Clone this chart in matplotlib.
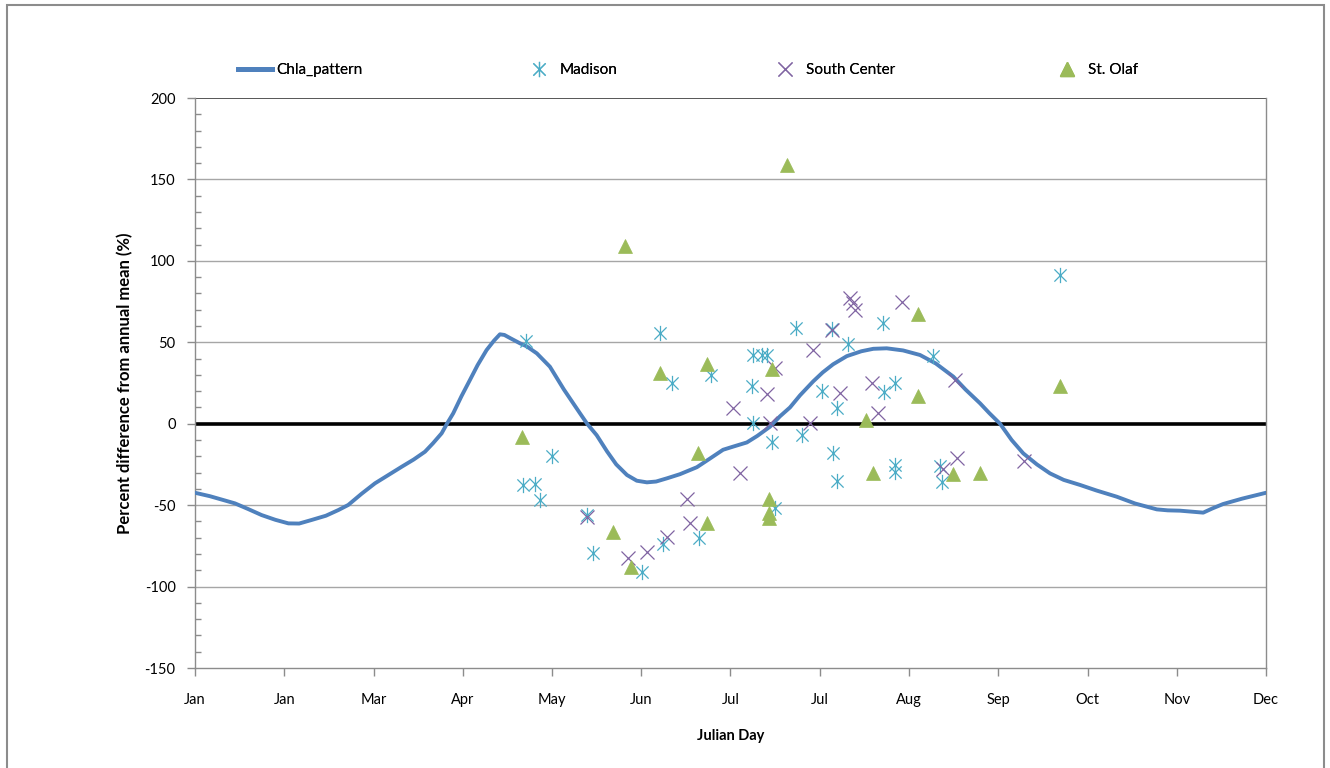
import matplotlib
matplotlib.use("Agg")
import matplotlib.pyplot as plt
from matplotlib.path import Path
from matplotlib.lines import Line2D
from matplotlib.patches import Rectangle
from matplotlib.ticker import MultipleLocator

plt.rcParams['font.family'] = ['Lato', 'DejaVu Sans']
plt.rcParams['axes.unicode_minus'] = False

# ---- data ----
chla_day = [0, 5, 13.4, 18, 22.4, 27, 31.4, 35, 39.2, 44, 48.2, 51.5, 56, 60.5, 65, 69.5, 73.5,
            77.3, 80, 82.9, 84.7, 86.8, 89.6, 92.4, 95, 98.0, 100.5, 102.5, 104, 106.0, 109.2,
            111.5, 114.9, 119.3, 124, 129.4, 131.8, 135, 138.5, 141.6, 145.2, 148.5, 151.9, 155,
            158.7, 163, 168.7, 173, 177.5, 181, 185.5, 189, 193.3, 196.6, 200, 203.4, 207.8,
            211, 214.5, 219.1, 224, 228, 232.5, 238, 243.7, 249, 254.9, 259, 263.9, 267, 270.6,
            274.5, 278.4, 283, 287.4, 292, 297.5, 303, 309.8, 316, 323.3, 327, 331.1, 335,
            338.9, 342, 345.6, 352, 360]
chla_val = [-42.4, -44.5, -48.9, -52.5, -56.1, -59.0, -61.2, -61.3, -59.1, -56.5, -53.0, -49.9,
            -43.0, -36.6, -31.5, -26.4, -22.0, -17.2, -12.0, -5.9, 0.0, 6.4, 17.0, 26.8, 36.0,
            45.2, 51.0, 54.9, 54.5, 52.5, 49.4, 47.5, 43.2, 35.0, 21.0, 6.4, 0.0, -7.0, -17.0,
            -25.0, -31.5, -35.0, -36.0, -35.5, -33.5, -31.0, -26.7, -21.5, -16.0, -14.0, -11.5,
            -7.5, -1.8, 4.5, 10.0, 17.5, 26.0, 31.5, 36.5, 41.5, 44.5, 46.0, 46.3, 45.0, 42.2,
            37.0, 28.9, 21.0, 12.5, 6.5, 0.0, -10.0, -18.2, -25.0, -30.5, -34.5, -37.6, -41.0,
            -44.8, -49.0, -52.6, -53.2, -53.4, -54.0, -54.6, -52.0, -49.3, -46.0, -42.4]

madison_day = [111.2, 110.4, 114.3, 116.0, 119.9, 131.7, 133.9, 150.2, 156.4, 157.4, 160.4, 169.4,
               173.4, 187.1, 187.7, 190.5, 192.2, 187.7, 193.8, 195.0, 201.9, 203.9, 210.7, 214.0,
               214.5, 215.7, 215.7, 219.6, 231.4, 231.6, 235.3, 235.3, 235.3, 248.2, 250.4, 251.2, 290.8]
madison_val = [51.0, -37.6, -37.0, -46.8, -19.8, -56.1, -79.6, -91.2, 55.9, -73.9, 25.2, -70.2,
               30.0, 23.1, 42.2, 42.2, 42.2, 0.6, -11.0, -51.8, 58.6, -6.9, 20.3, 58.0,
               -17.8, 9.8, -35.2, 48.9, 61.6, 19.7, 24.8, -25.4, -29.5, 41.4, -25.8, -35.8, 91.3]

south_day = [131.7, 145.6, 151.8, 158.6, 165.3, 166.4, 180.9, 183.2, 192.2, 193.3, 195.0, 206.7,
             207.8, 214.0, 216.8, 220.2, 221.2, 221.8, 227.5, 229.7, 237.5, 251.5, 255.5, 256.0, 278.8]
south_val = [-57.1, -82.6, -79.0, -69.8, -46.2, -61.2, 9.5, -30.5, 18.1, 0.2, 34.0, 0.2,
             45.3, 57.5, 19.0, 77.0, 74.0, 70.0, 24.8, 6.4, 74.5, -27.8, 26.8, -21.2, -22.9]

olaf_day = [110.0, 140.6, 144.5, 146.6, 156.4, 169.2, 172.2, 172.0, 193.0, 193.0, 193.0, 194.1,
            198.9, 225.5, 227.8, 243.1, 243.1, 254.9, 263.9, 290.8]
olaf_val = [-8.4, -66.7, 109.1, -87.8, 31.0, -18.2, 36.5, -61.2, -46.4, -54.6, -58.1, 33.4,
            158.8, 2.3, -30.5, 67.2, 16.8, -30.9, -30.1, 23.0]

xtick_pos = [0, 30, 60, 90, 120, 150, 180, 210, 240, 270, 300, 330, 360]
xtick_lab = ['Jan', 'Jan', 'Mar', 'Apr', 'May', 'Jun', 'Jul', 'Jul', 'Aug', 'Sep', 'Oct', 'Nov', 'Dec']

# ---- styling ----
c_line = '#4F81BD'
c_mad = '#4BACC6'
c_sc = '#8064A2'
c_olaf = '#9BBB59'

star = Path([(0, -1), (0, 1), (-0.8, -0.8), (0.8, 0.8), (-0.8, 0.8), (0.8, -0.8)],
            [Path.MOVETO, Path.LINETO, Path.MOVETO, Path.LINETO, Path.MOVETO, Path.LINETO])

W, H = 1330, 768
fig = plt.figure(figsize=(W / 100, H / 100), dpi=100)
ax = fig.add_axes([195 / W, 1 - 668 / H, (1266 - 195) / W, (668 - 98) / H])

ax.set_xlim(0, 360)
ax.set_ylim(-150, 200)

for yv in range(-150, 201, 50):
    if yv in (0, -150, 200):
        continue
    ax.axhline(yv, color='#A6A6A6', lw=1.0, zorder=1)
ax.axhline(200, color='#3a3a3a', lw=1.2, zorder=1)
ax.axhline(0, color='black', lw=2.6, zorder=2)

ax.plot(chla_day, chla_val, color=c_line, lw=2.8, zorder=3,
        solid_joinstyle='round', solid_capstyle='round')
ax.plot(madison_day, madison_val, ls='none', marker=star, ms=11, mew=0.9,
        mec=c_mad, mfc='none', zorder=4)
ax.plot(south_day, south_val, ls='none', marker='x', ms=10, mew=0.9,
        color=c_sc, zorder=4)
ax.plot(olaf_day, olaf_val, ls='none', marker='^', ms=10, mew=0.5,
        mec=c_olaf, mfc=c_olaf, zorder=5)

for s in ['left', 'bottom', 'right']:
    ax.spines[s].set_color('#8C8C8C')
    ax.spines[s].set_linewidth(1.0)
ax.spines['top'].set_visible(False)

ax.set_xticks(xtick_pos)
ax.set_xticklabels(xtick_lab)
ax.yaxis.set_major_locator(MultipleLocator(50))
ax.yaxis.set_minor_locator(MultipleLocator(10))
ax.tick_params(axis='y', which='major', direction='out', length=6, width=1, color='#8C8C8C',
               labelsize=10.5, pad=8)
ax.tick_params(axis='y', which='minor', direction='in', length=4, width=1, color='#8C8C8C')
ax.tick_params(axis='x', which='major', direction='out', length=6, width=1, color='#8C8C8C',
               labelsize=10.5, pad=12)

ax.set_ylabel('Percent difference from annual mean (%)', fontsize=12, fontweight='bold', labelpad=8)
ax.set_xlabel('Julian Day', fontsize=10.5, fontweight='bold', labelpad=16)

# ---- legend (four entries placed like the original) ----
handles = [
    (Line2D([], [], color=c_line, lw=3.5), 'Chla_pattern', 238, 2.2, 0.3),
    (Line2D([], [], ls='none', marker=star, ms=11, mew=0.9, mec=c_mad, mfc='none'), 'Madison', 530, 1.2, 0.75),
    (Line2D([], [], ls='none', marker='x', ms=10, mew=0.9, color=c_sc), 'South Center', 776, 1.2, 0.75),
    (Line2D([], [], ls='none', marker='^', ms=10, mec=c_olaf, mfc=c_olaf), 'St. Olaf', 1058, 1.2, 0.75),
]
for h, lab, xpx, hl, htp in handles:
    leg = fig.legend([h], [lab], loc='center left', bbox_to_anchor=(xpx / W, 1 - 70 / H),
                     frameon=False, fontsize=11, handlelength=hl,
                     handletextpad=htp, borderpad=0, borderaxespad=0)
    fig.add_artist(leg)

# outer chart border
fig.add_artist(Rectangle((7 / W, -0.02), (1324 - 7) / W, 1 - 5 / H + 0.02,
                         transform=fig.transFigure, fill=False, ec='#8C8C8C', lw=1.5))

fig.savefig('out.png', dpi=100)
